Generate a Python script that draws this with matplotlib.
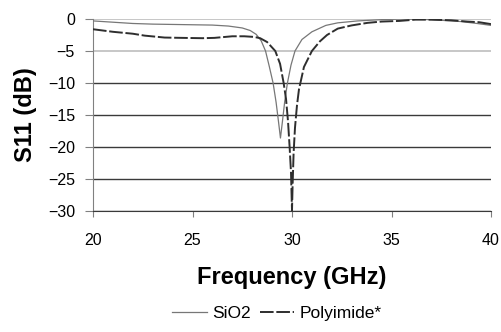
import matplotlib
matplotlib.use('Agg')
import matplotlib.pyplot as plt

plt.rcParams['font.family'] = ['Liberation Sans', 'DejaVu Sans']

# SiO2 curve (solid)
freq_sio2 = [20, 21, 22, 23, 24, 25, 26, 26.8, 27.5, 27.9, 28.2, 28.45, 28.67,
             28.85, 29.05, 29.2, 29.32, 29.42, 29.52, 29.63, 29.77, 29.95, 30.15,
             30.5, 31.0, 31.7, 32.3, 33.3, 34.5, 35.5, 37.0, 38.5, 39.3, 40]
s11_sio2 = [-0.3, -0.5, -0.7, -0.8, -0.85, -0.9, -0.95, -1.1, -1.4, -1.8, -2.4,
            -3.4, -5.0, -7.3, -10.0, -13.0, -16.0, -18.6, -16.0, -13.0, -10.0,
            -7.2, -5.0, -3.2, -2.0, -1.0, -0.6, -0.3, -0.1, 0.0, -0.1, -0.4,
            -0.7, -1.0]

# Polyimide curve (dashed)
freq_poly = [20, 20.5, 21, 21.5, 22, 22.6, 23.1, 23.6, 24.5, 25.5, 26.1, 27.0,
             27.6, 28.1, 28.4, 28.75, 29.16, 29.4, 29.58, 29.7, 29.8, 29.88,
             29.95, 30.0, 30.03, 30.08, 30.15, 30.25, 30.35, 30.6, 31.0, 31.4,
             31.76, 32.3, 33.0, 33.8, 34.5, 35.4, 36.2, 37.0, 38.0, 38.8, 39.4, 40]
s11_poly = [-1.6, -1.8, -2.0, -2.15, -2.3, -2.6, -2.75, -2.9, -2.95, -3.0, -2.95,
            -2.7, -2.7, -2.8, -3.0, -3.6, -5.0, -7.0, -10.0, -12.5, -16.0, -20.0,
            -24.0, -29.9, -26.0, -21.0, -17.0, -13.5, -11.0, -7.5, -5.0, -3.5,
            -2.5, -1.5, -1.0, -0.6, -0.4, -0.3, -0.1, -0.1, -0.2, -0.4, -0.5, -0.8]

xticks = [20, 25, 30, 35, 40]
yticks = [0, -5, -10, -15, -20, -25, -30]

fig = plt.figure(figsize=(5.02, 3.32), dpi=100)
ax = fig.add_axes([93/502, 1 - 211/332, 398/502, 192/332])

# horizontal grid: the two top ones are light, the rest dark
for y in yticks:
    col = '#bdbdbd' if y > -10 else '#3a3a3a'
    ax.axhline(y, color=col, lw=1.2 if y > -10 else 1.0, zorder=1)

ax.plot(freq_sio2, s11_sio2, color='#777777', lw=0.9, label='SiO2', zorder=3)
ax.plot(freq_poly, s11_poly, color='#2e2e2e', lw=1.4, linestyle=(0, (7, 1.4)),
        label='Polyimide*', zorder=3)

ax.set_xlim(20, 40)
ax.set_ylim(-30, 0)
ax.set_xticks(xticks)
ax.set_yticks(yticks)
for side in ['top', 'right']:
    ax.spines[side].set_visible(False)
ax.spines['left'].set_color('#808080')
ax.spines['bottom'].set_color('#3a3a3a')
ax.tick_params(axis='y', length=6, color='#808080', pad=7, labelsize=11.5)
ax.tick_params(axis='x', length=4, color='#808080', pad=12, labelsize=11.5)

ax.set_xlabel('Frequency (GHz)', fontsize=17, fontweight='bold', labelpad=13)
ax.set_ylabel('S11 (dB)', fontsize=17, fontweight='bold', labelpad=8)

fig.legend(loc='center', bbox_to_anchor=(277/502, 0.055), ncol=2, frameon=False,
           fontsize=12.5, handlelength=2.0, handletextpad=0.3, columnspacing=0.5)

plt.savefig('out.png', dpi=100)
